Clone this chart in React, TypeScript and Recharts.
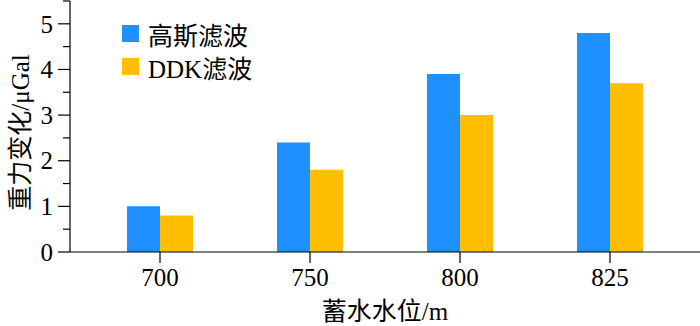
import { BarChart, Bar, XAxis, YAxis } from 'recharts'

const levels = ['700', '750', '800', '825']
const gauss = [1.0, 2.4, 3.9, 4.8]
const ddk = [0.8, 1.8, 3.0, 3.7]
const yTicks = [0, 0.5, 1, 1.5, 2, 2.5, 3, 3.5, 4, 4.5, 5, 5.5]

const BLUE = '#1E90FF'
const ORANGE = '#FFBF00'
const FONT = "'Liberation Serif', 'Times New Roman', 'Noto Sans CJK SC', serif"

const data = levels.map((level, i) => ({ level, gauss: gauss[i], ddk: ddk[i] }))

const series = [
  { name: '高斯滤波', color: BLUE },
  { name: 'DDK滤波', color: ORANGE },
]

function YTick(props: any) {
  const { x, y, payload } = props
  const major = Number.isInteger(payload.value)
  return (
    <g>
      <line x1={x - (major ? 12 : 7)} x2={x} y1={y} y2={y} stroke="#000" strokeWidth={1.2} />
      {major && (
        <text x={x - 17} y={y} dy="0.35em" textAnchor="end" fill="#000" fontSize={25} fontFamily={FONT}>
          {payload.value}
        </text>
      )}
    </g>
  )
}

// legend sits over the plot, so it's drawn as a plain overlay
function LegendBox() {
  return (
    <div style={{ position: 'absolute', left: 122, top: 17, fontFamily: FONT, fontSize: 25, color: '#000' }}>
      {series.map(s => (
        <div key={s.name} style={{ display: 'flex', alignItems: 'center', height: 33 }}>
          <span style={{ width: 17, height: 17, background: s.color, marginRight: 9, display: 'inline-block' }} />
          <span>{s.name}</span>
        </div>
      ))}
    </div>
  )
}

export default function App() {
  return (
    <div style={{ position: 'absolute', left: 0, top: 0, width: 700, height: 326, background: '#fff' }}>
      <BarChart
        width={700}
        height={326}
        data={data}
        margin={{ top: 1, right: 0, left: 0, bottom: 0 }}
        barGap={0}
        barSize={33}
      >
        <XAxis
          dataKey="level"
          height={74}
          padding={{ left: 15, right: 15 }}
          stroke="#000"
          strokeWidth={1.2}
          tickSize={11}
          tickMargin={5}
          tick={{ fill: '#000', fontSize: 25, fontFamily: FONT }}
          label={{
            value: '蓄水水位/m',
            position: 'insideBottom',
            offset: 6,
            fill: '#000',
            fontSize: 25,
            fontFamily: FONT,
          }}
        />
        <YAxis
          width={70}
          domain={[0, 5.5]}
          ticks={yTicks}
          interval={0}
          stroke="#000"
          strokeWidth={1.2}
          tickLine={false}
          tickSize={0}
          tickMargin={0}
          tick={<YTick />}
          label={{
            value: '重力变化/μGal',
            angle: -90,
            position: 'insideLeft',
            offset: 20,
            dy: 6,
            fill: '#000',
            fontSize: 25,
            fontFamily: FONT,
            style: { textAnchor: 'middle' },
          }}
        />
        <Bar dataKey="gauss" name="高斯滤波" fill={BLUE} isAnimationActive={false} />
        <Bar dataKey="ddk" name="DDK滤波" fill={ORANGE} isAnimationActive={false} />
      </BarChart>
      <LegendBox />
    </div>
  )
}
